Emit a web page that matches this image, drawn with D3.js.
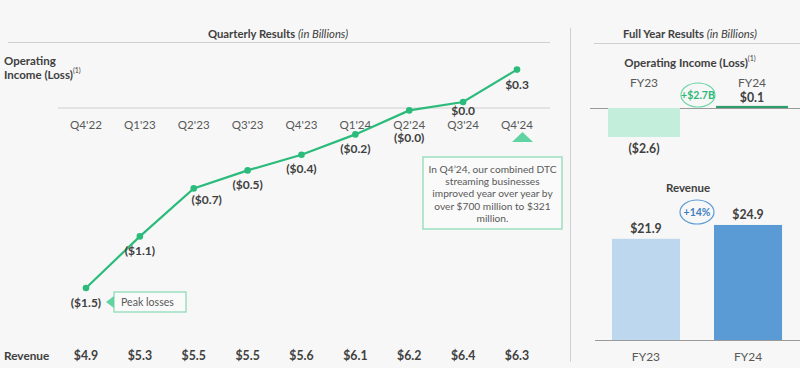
<!DOCTYPE html>
<html><head><meta charset="utf-8">
<script src="https://cdn.jsdelivr.net/npm/d3@7"></script>
<style>
html,body{margin:0;padding:0;background:#f7f7f7;}
svg{display:block;font-family:Lato,"Open Sans",sans-serif;}
</style></head>
<body><svg id="c" width="800" height="368"></svg>
<script>
// ---- data ----
const quarters = ["Q4'22","Q1'23","Q2'23","Q3'23","Q4'23","Q1'24","Q2'24","Q3'24","Q4'24"];
const opIncome = [-1.50,-1.07,-0.67,-0.52,-0.39,-0.22,-0.02,0.05,0.32];
const opLabels = ["($1.5)","($1.1)","($0.7)","($0.5)","($0.4)","($0.2)","($0.0)","$0.0","$0.3"];
const quarterRevenue = ["$4.9","$5.3","$5.5","$5.5","$5.6","$6.1","$6.2","$6.4","$6.3"];
const years = ["FY23","FY24"];
const yearOpIncome = [-2.6, 0.1];
const yearOpLabels = ["($2.6)","$0.1"];
const yearRevenue = [21.9, 24.9];
const yearRevLabels = ["$21.9","$24.9"];
const noteLines = ["In Q4\u201924, our combined DTC","streaming businesses","improved year over year by","over $700 million to $321","million."];

const svg = d3.select("#c");
const gray = "#595959", dark = "#404040", green = "#2bbb7b";

// ---- left panel ----
const x = d3.scalePoint().domain(quarters).range([86, 517]);
const y = d3.scaleLinear().domain([0, -1.5]).range([108, 288]);

svg.append("text").attr("x",278).attr("y",33).attr("text-anchor","middle").attr("dominant-baseline","central")
  .attr("font-size",11.3).attr("font-weight",700).attr("fill",dark)
  .call(t=>{t.append("tspan").text("Quarterly Results ");t.append("tspan").attr("font-style","italic").attr("font-weight",400).text("(in Billions)");});
svg.append("line").attr("x1",8).attr("x2",550).attr("y1",42.5).attr("y2",42.5).attr("stroke","#d0d0d0").attr("stroke-width",1);

svg.append("text").attr("x",4).attr("y",60).attr("dominant-baseline","central").attr("font-size",11.5).attr("font-weight",700).attr("fill",dark).text("Operating");
svg.append("text").attr("x",4).attr("y",74).attr("dominant-baseline","central").attr("font-size",11.5).attr("font-weight",700).attr("fill",dark)
  .call(t=>{t.append("tspan").text("Income (Loss)");t.append("tspan").attr("font-size",7).attr("font-weight",400).attr("dy",-4).text("(1)");});

svg.append("line").attr("x1",58).attr("x2",550).attr("y1",y(0)).attr("y2",y(0)).attr("stroke","#d0d0d0");

svg.selectAll(".ql").data(quarters).join("text").attr("x",d=>x(d)).attr("y",124.5)
  .attr("text-anchor","middle").attr("dominant-baseline","central").attr("font-size",11.6).attr("fill",gray).text(d=>d);

const pts = quarters.map((q,i)=>({q,v:opIncome[i],l:opLabels[i]}));
svg.append("path").datum(pts).attr("fill","none").attr("stroke",green).attr("stroke-width",2.2)
  .attr("d",d3.line().x(d=>x(d.q)).y(d=>y(d.v)));
svg.selectAll(".pt").data(pts).join("circle").attr("cx",d=>x(d.q)).attr("cy",d=>y(d.v)).attr("r",3.3).attr("fill",green);

const lblOff = [[0,14],[0,14],[13,11],[0,14],[0,14],[0,14],[0,27],[0,8.5],[0,15]];
svg.selectAll(".vl").data(pts).join("text")
  .attr("x",(d,i)=>x(d.q)+lblOff[i][0]).attr("y",(d,i)=>y(d.v)+lblOff[i][1])
  .attr("text-anchor","middle").attr("dominant-baseline","central").attr("font-size",12).attr("font-weight",700).attr("fill",dark)
  .text(d=>d.l);

// revenue row
svg.append("text").attr("x",4).attr("y",355).attr("dominant-baseline","central").attr("font-size",11.8).attr("font-weight",700).attr("fill",dark).text("Revenue");
svg.selectAll(".rv").data(quarters).join("text").attr("x",d=>x(d)).attr("y",355)
  .attr("text-anchor","middle").attr("dominant-baseline","central").attr("font-size",12.3).attr("font-weight",700).attr("fill",dark)
  .text((d,i)=>quarterRevenue[i]);

// peak losses callout
svg.append("rect").attr("x",114).attr("y",292).attr("width",72).attr("height",20).attr("fill","#fafafa").attr("stroke","#8fdcb8").attr("stroke-width",1.3);
svg.append("path").attr("d","M106,302 L114,296 L114,308 Z").attr("fill","#5fd3a1");
svg.append("text").attr("x",121).attr("y",302).attr("dominant-baseline","central").attr("font-size",10.6).attr("fill",gray).text("Peak losses");

// note box
svg.append("path").attr("d","M512,142 L522.5,132 L533,142 Z").attr("fill","#5fd3a1");
svg.append("rect").attr("x",423).attr("y",157).attr("width",139).attr("height",72).attr("fill","#fafafa").attr("stroke","#8fdcb8").attr("stroke-width",1.3);
svg.selectAll(".nl").data(noteLines).join("text").attr("x",492.5).attr("y",(d,i)=>169+i*12.2)
  .attr("text-anchor","middle").attr("dominant-baseline","central").attr("font-size",10.2).attr("fill",gray).text(d=>d);

// divider
svg.append("line").attr("x1",570.5).attr("x2",570.5).attr("y1",28).attr("y2",362).attr("stroke","#d0d0d0");

// ---- right panel ----
svg.append("text").attr("x",690).attr("y",33).attr("text-anchor","middle").attr("dominant-baseline","central")
  .attr("font-size",11.3).attr("font-weight",700).attr("fill",dark)
  .call(t=>{t.append("tspan").text("Full Year Results ");t.append("tspan").attr("font-style","italic").attr("font-weight",400).text("(in Billions)");});
svg.append("line").attr("x1",594).attr("x2",800).attr("y1",43.5).attr("y2",43.5).attr("stroke","#d0d0d0");

svg.append("text").attr("x",690).attr("y",62).attr("text-anchor","middle").attr("dominant-baseline","central")
  .attr("font-size",11.5).attr("font-weight",700).attr("fill",dark)
  .call(t=>{t.append("tspan").text("Operating Income (Loss)");t.append("tspan").attr("font-size",7).attr("font-weight",400).attr("dy",-4).text("(1)");});

const xo = d3.scaleBand().domain(years).range([590,806]).paddingInner(1/3).paddingOuter(1/6);
const yo = d3.scaleLinear().domain([0,-2.6]).range([108,137]);
svg.append("line").attr("x1",590).attr("x2",800).attr("y1",108.5).attr("y2",108.5).attr("stroke","#9a9a9a");
const opColors = ["#c2eedb","#2f9d6c"];
svg.selectAll(".ob").data(years).join("rect")
  .attr("x",d=>xo(d)).attr("width",xo.bandwidth())
  .attr("y",(d,i)=>Math.min(yo(0),yo(yearOpIncome[i]))-(yearOpIncome[i]>0?1:0))
  .attr("height",(d,i)=>Math.abs(yo(yearOpIncome[i])-yo(0))+(yearOpIncome[i]>0?1:0))
  .attr("fill",(d,i)=>opColors[i]);
svg.selectAll(".oy").data(years).join("text").attr("x",d=>xo(d)+xo.bandwidth()/2).attr("y",82)
  .attr("text-anchor","middle").attr("dominant-baseline","central").attr("font-size",12).attr("fill",gray).text(d=>d);
svg.append("text").attr("x",xo("FY24")+xo.bandwidth()/2).attr("y",97).attr("text-anchor","middle").attr("dominant-baseline","central")
  .attr("font-size",12.3).attr("font-weight",700).attr("fill",dark).text(yearOpLabels[1]);
svg.append("text").attr("x",xo("FY23")+xo.bandwidth()/2).attr("y",148).attr("text-anchor","middle").attr("dominant-baseline","central")
  .attr("font-size",12.3).attr("font-weight",700).attr("fill",dark).text(yearOpLabels[0]);
svg.append("ellipse").attr("cx",698).attr("cy",95).attr("rx",17).attr("ry",12).attr("fill","none").attr("stroke","#6fd6a8").attr("stroke-width",1.2);
svg.append("text").attr("x",698).attr("y",95).attr("text-anchor","middle").attr("dominant-baseline","central")
  .attr("font-size",10.5).attr("font-weight",700).attr("fill","#2db878").text("+$2.7B");

// revenue bars
svg.append("text").attr("x",688).attr("y",187).attr("text-anchor","middle").attr("dominant-baseline","central")
  .attr("font-size",11.5).attr("font-weight",700).attr("fill",dark).text("Revenue");
const xr = d3.scaleBand().domain(years).range([594,800]).paddingInner(1/3).paddingOuter(0.176);
const yr = d3.scaleLinear().domain([0,25]).range([340,224.5]);
const revColors = ["#bdd7ee","#5b9bd5"];
svg.selectAll(".rb").data(years).join("rect")
  .attr("x",d=>xr(d)).attr("width",xr.bandwidth())
  .attr("y",(d,i)=>yr(yearRevenue[i])).attr("height",(d,i)=>yr(0)-yr(yearRevenue[i]))
  .attr("fill",(d,i)=>revColors[i]);
svg.append("line").attr("x1",595).attr("x2",800).attr("y1",340.5).attr("y2",340.5).attr("stroke","#9a9a9a");
svg.selectAll(".rl").data(years).join("text").attr("x",d=>xr(d)+xr.bandwidth()/2).attr("y",(d,i)=>yr(yearRevenue[i])-10)
  .attr("text-anchor","middle").attr("dominant-baseline","central").attr("font-size",12.3).attr("font-weight",700).attr("fill",dark)
  .text((d,i)=>yearRevLabels[i]);
svg.selectAll(".ry").data(years).join("text").attr("x",d=>xr(d)+xr.bandwidth()/2).attr("y",356)
  .attr("text-anchor","middle").attr("dominant-baseline","central").attr("font-size",12).attr("fill",gray).text(d=>d);
svg.append("ellipse").attr("cx",697).attr("cy",212).attr("rx",17).attr("ry",12).attr("fill","none").attr("stroke","#5b9bd5").attr("stroke-width",1.2);
svg.append("text").attr("x",697).attr("y",212).attr("text-anchor","middle").attr("dominant-baseline","central")
  .attr("font-size",10.5).attr("font-weight",700).attr("fill","#3d7fc4").text("+14%");
</script></body></html>
